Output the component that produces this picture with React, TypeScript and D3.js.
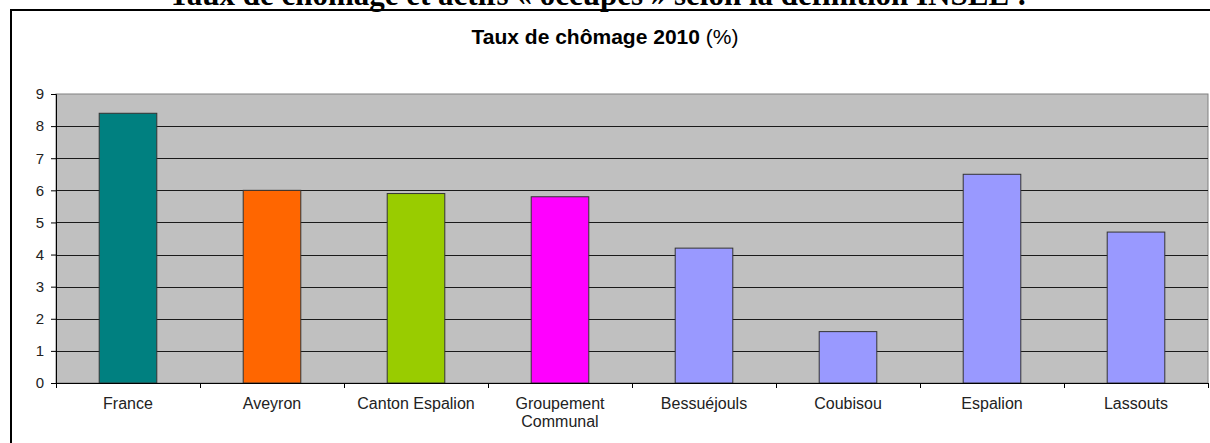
import React, { useEffect, useRef } from "react";
import * as d3 from "d3";

const categories = [
  "France",
  "Aveyron",
  "Canton Espalion",
  "Groupement Communal",
  "Bessuéjouls",
  "Coubisou",
  "Espalion",
  "Lassouts",
];
const values = [8.4, 6.0, 5.9, 5.8, 4.2, 1.6, 6.5, 4.7];
const barColors = [
  "#008080",
  "#ff6600",
  "#99cc00",
  "#ff00ff",
  "#9999ff",
  "#9999ff",
  "#9999ff",
  "#9999ff",
];
const yTicks = [0, 1, 2, 3, 4, 5, 6, 7, 8, 9];

const W = 1210;
const H = 443;
const margin = { left: 56, right: 2, top: 94, bottom: 60 };
const sans = "Liberation Sans, Arial, sans-serif";

const App = () => {
  const ref = useRef<SVGSVGElement>(null);

  useEffect(() => {
    if (!ref.current) return;
    const svg = d3.select(ref.current);
    svg.selectAll("*").remove();

    // page heading, cut off by the top edge as in the scan
    svg
      .append("text")
      .attr("x", 598)
      .attr("y", 5)
      .attr("text-anchor", "middle")
      .attr("font-family", "Liberation Serif, serif")
      .attr("font-weight", "bold")
      .attr("font-size", 31)
      .attr("fill", "#000")
      .text("Taux de chômage et actifs « occupés » selon la définition INSEE :");

    // frame of the chart
    svg
      .append("path")
      .attr("d", `M11,${H} L11,10 L${W},10`)
      .attr("fill", "none")
      .attr("stroke", "#000")
      .attr("stroke-width", 2);

    const title = svg
      .append("text")
      .attr("x", 605)
      .attr("y", 44)
      .attr("text-anchor", "middle")
      .attr("font-family", sans)
      .attr("font-size", 21)
      .attr("fill", "#000");
    title.append("tspan").attr("font-weight", "bold").text("Taux de chômage 2010 ");
    title.append("tspan").text("(%)");

    const x = d3
      .scaleBand()
      .domain(categories)
      .range([margin.left, W - margin.right])
      .padding(0);

    const y = d3.scaleLinear().domain([0, 9]).range([383, margin.top]);

    // plot background
    svg
      .append("rect")
      .attr("x", margin.left)
      .attr("y", y(9))
      .attr("width", W - margin.right - margin.left)
      .attr("height", y(0) - y(9))
      .attr("fill", "#c0c0c0")
      .attr("stroke", "#808080")
      .attr("stroke-width", 1);

    // gridlines
    svg
      .append("g")
      .selectAll("line")
      .data(yTicks.filter((t) => t > 0 && t < 9))
      .enter()
      .append("line")
      .attr("x1", margin.left)
      .attr("x2", W - margin.right)
      .attr("y1", (d) => Math.round(y(d)) + 0.5)
      .attr("y2", (d) => Math.round(y(d)) + 0.5)
      .attr("stroke", "#1a1a1a")
      .attr("stroke-width", 1);

    // bars
    const barW = x.bandwidth() * 0.4;
    svg
      .append("g")
      .selectAll("rect")
      .data(values)
      .enter()
      .append("rect")
      .attr("x", (_, i) => x(categories[i])! + (x.bandwidth() - barW) / 2)
      .attr("y", (d) => y(d))
      .attr("width", barW)
      .attr("height", (d) => y(0) - y(d))
      .attr("fill", (_, i) => barColors[i])
      .attr("stroke", "#333")
      .attr("stroke-width", 1);

    // y axis
    const yAxis = d3
      .axisLeft(y)
      .tickValues(yTicks)
      .tickSize(5)
      .tickPadding(7)
      .tickFormat((d) => `${d}`);
    const gy = svg
      .append("g")
      .attr("transform", `translate(${margin.left},0)`)
      .call(yAxis);
    gy.select(".domain").attr("stroke", "#000");
    gy.selectAll(".tick line").attr("stroke", "#000");
    gy.selectAll("text")
      .attr("font-family", sans)
      .attr("font-size", 15)
      .attr("fill", "#222");

    // x axis: ticks between categories
    const gx = svg.append("g");
    gx.append("line")
      .attr("x1", margin.left)
      .attr("x2", W - margin.right)
      .attr("y1", y(0) + 0.5)
      .attr("y2", y(0) + 0.5)
      .attr("stroke", "#000");
    gx.selectAll(".tk")
      .data(categories.concat([""]))
      .enter()
      .append("line")
      .attr("class", "tk")
      .attr("x1", (_, i) => Math.round(margin.left + i * x.step()) + 0.5)
      .attr("x2", (_, i) => Math.round(margin.left + i * x.step()) + 0.5)
      .attr("y1", y(0))
      .attr("y2", y(0) + 5)
      .attr("stroke", "#000");

    const labels = gx
      .selectAll(".lbl")
      .data(categories)
      .enter()
      .append("text")
      .attr("class", "lbl")
      .attr("text-anchor", "middle")
      .attr("font-family", sans)
      .attr("font-size", 16)
      .attr("fill", "#222");
    labels.each(function (d) {
      const t = d3.select(this);
      const cx = x(d)! + x.bandwidth() / 2;
      const lines = d === "Groupement Communal" ? ["Groupement", "Communal"] : [d];
      lines.forEach((l, j) => {
        t.append("tspan")
          .attr("x", cx)
          .attr("y", 409 + j * 18)
          .text(l);
      });
    });
  }, []);

  return (
    <svg
      ref={ref}
      width={W}
      height={H}
      style={{ position: "absolute", left: 0, top: 0, background: "#fff" }}
    />
  );
};

export default App;
